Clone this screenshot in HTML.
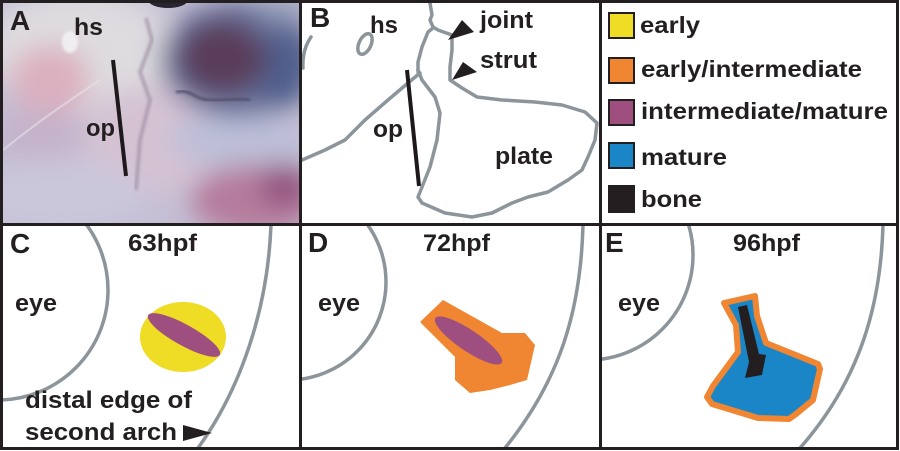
<!DOCTYPE html>
<html><head><meta charset="utf-8"><style>
html,body{margin:0;padding:0;background:#fff;}
svg{display:block;}
text{font-family:"Liberation Sans",Arial,sans-serif;font-weight:bold;fill:#231f20;}
</style></head><body>
<svg width="900" height="451" viewBox="0 0 900 451" xmlns="http://www.w3.org/2000/svg">
<defs>
 <clipPath id="ca"><rect x="3" y="3" width="296" height="220"/></clipPath>
 <clipPath id="cb"><rect x="302" y="3" width="297" height="220"/></clipPath>
 <clipPath id="cc"><rect x="3" y="226" width="296" height="221"/></clipPath>
 <clipPath id="cd"><rect x="302" y="226" width="297" height="221"/></clipPath>
 <clipPath id="ce"><rect x="602" y="226" width="294" height="221"/></clipPath>
 <filter id="b15" x="-50%" y="-50%" width="200%" height="200%"><feGaussianBlur stdDeviation="13"/></filter>
 <filter id="b6" x="-50%" y="-50%" width="200%" height="200%"><feGaussianBlur stdDeviation="5"/></filter>
 <filter id="b2"><feGaussianBlur stdDeviation="1.2"/></filter>
</defs>
<rect width="900" height="451" fill="#fff"/>

<!-- Panel A (photo approximation) -->
<g clip-path="url(#ca)">
 <rect x="0" y="0" width="300" height="226" fill="#c4bfd4"/>
 <g filter="url(#b15)">
  <ellipse cx="80" cy="50" rx="95" ry="60" fill="#dedcdf"/>
  <ellipse cx="50" cy="80" rx="40" ry="35" fill="#dbb0bf"/>
  <ellipse cx="150" cy="140" rx="70" ry="55" fill="#d4c2d3"/>
  <ellipse cx="40" cy="135" rx="45" ry="25" fill="#c4b2ca"/>
  <ellipse cx="60" cy="195" rx="85" ry="35" fill="#cbc7db"/>
  <ellipse cx="240" cy="140" rx="70" ry="28" fill="#bdbfd8"/>
  <ellipse cx="255" cy="200" rx="65" ry="35" fill="#b57c9c"/>
  <ellipse cx="285" cy="185" rx="25" ry="22" fill="#93527f"/>
  <ellipse cx="240" cy="60" rx="80" ry="58" fill="#66709a"/>
  <ellipse cx="285" cy="70" rx="25" ry="40" fill="#4f5f8c"/>
  <ellipse cx="222" cy="58" rx="45" ry="38" fill="#5a3c5a"/>
  <ellipse cx="285" cy="8" rx="25" ry="12" fill="#9aa2bc"/>
 </g>
 <ellipse cx="70" cy="42" rx="8" ry="11" fill="#f0eef0" filter="url(#b2)"/>
 <ellipse cx="168" cy="0" rx="20" ry="8" fill="#2b2530"/>
 <path d="M176,92 C190,88 195,100 210,100 C225,101 235,98 250,100" stroke="#4e4c68" stroke-width="2.5" fill="none" filter="url(#b2)"/>
 <path d="M146,18 L152,40 L140,72 L150,100 L140,140 L136,190" stroke="#9a8aa0" stroke-width="4" fill="none" opacity="0.6" filter="url(#b2)"/>
 <path d="M3,150 C40,120 70,100 100,80" stroke="#e8e4ea" stroke-width="2" fill="none" opacity="0.6"/>
 <line x1="113" y1="60" x2="126" y2="176" stroke="#1e1a1c" stroke-width="4"/>
 <text x="10" y="30" font-size="28">A</text>
 <text x="74" y="35" font-size="24" textLength="29" lengthAdjust="spacingAndGlyphs">hs</text>
 <text x="86" y="136" font-size="24" textLength="29" lengthAdjust="spacingAndGlyphs">op</text>
</g>

<!-- Panel B -->
<g clip-path="url(#cb)">
 <g stroke="#8c959b" stroke-width="3.5" fill="none" stroke-linejoin="round" stroke-linecap="round">
  <path d="M311,37 Q302,50 303,68"/>
  <ellipse cx="365" cy="44" rx="6" ry="11" transform="rotate(25 365 44)"/>
  <path d="M430,3 L432,15 L430,20 L433,27 L438,30 L452,35"/>
  <path d="M433,28 L428,32 L422,47 L418,62 L418,72"/>
  <path d="M452,35 L452,50 L450,67 L450,80 L462,88 L477,97 L502,100 L535,102 L562,105 L585,112 L597,123 L595,140 L588,157 L582,170 L568,180 L548,192 L528,197 L512,203 L492,213 L472,217 L445,213 L422,203 L418,197 L422,187 L430,167 L437,140 L440,113 L435,97 L422,80 L418,70"/>
  <path d="M302,160 L325,150 L345,140 L365,120 L388,100 L408,83 L420,73"/>
 </g>
 <line x1="407" y1="70" x2="419" y2="186" stroke="#1e1a1c" stroke-width="4"/>
 <polygon points="448,40 462,20 474,32" fill="#231f20"/>
 <polygon points="452,80 463,62 477,72" fill="#231f20"/>
 <text x="310" y="27" font-size="28">B</text>
 <text x="370" y="33" font-size="24" textLength="28" lengthAdjust="spacingAndGlyphs">hs</text>
 <text x="480" y="28" font-size="24" textLength="53" lengthAdjust="spacingAndGlyphs">joint</text>
 <text x="480" y="68" font-size="24" textLength="57" lengthAdjust="spacingAndGlyphs">strut</text>
 <text x="373" y="137" font-size="24" textLength="30" lengthAdjust="spacingAndGlyphs">op</text>
 <text x="495" y="164" font-size="24" textLength="58" lengthAdjust="spacingAndGlyphs">plate</text>
</g>

<!-- Legend -->
<g stroke="#231f20" stroke-width="2">
 <rect x="609" y="13" width="25" height="25" fill="#efdc24"/>
 <rect x="609" y="58" width="25" height="25" fill="#f08532"/>
 <rect x="609" y="100" width="25" height="25" fill="#9f4f7f"/>
 <rect x="609" y="143" width="25" height="25" fill="#1b86c7"/>
 <rect x="609" y="186" width="25" height="26" fill="#231f20"/>
</g>
<text x="640" y="33" font-size="23" textLength="60" lengthAdjust="spacingAndGlyphs">early</text>
<text x="641" y="77" font-size="23" textLength="221" lengthAdjust="spacingAndGlyphs">early/intermediate</text>
<text x="641" y="119" font-size="23" textLength="247" lengthAdjust="spacingAndGlyphs">intermediate/mature</text>
<text x="641" y="165" font-size="23" textLength="86" lengthAdjust="spacingAndGlyphs">mature</text>
<text x="641" y="207" font-size="23" textLength="61" lengthAdjust="spacingAndGlyphs">bone</text>

<!-- Panel C -->
<g clip-path="url(#cc)">
 <g stroke="#8c959b" stroke-width="3.5" fill="none">
  <circle cx="-2" cy="290" r="110"/>
  <path d="M271,224 C268,310 240,390 198,448"/>
 </g>
 <ellipse cx="183" cy="337" rx="43" ry="35" fill="#efdc24"/>
 <ellipse cx="184" cy="335" rx="41" ry="10.5" transform="rotate(29 184 335)" fill="#9f4f7f"/>
 <polygon points="183,425 212,433 183,441" fill="#231f20"/>
 <text x="10" y="253" font-size="28">C</text>
 <text x="128" y="251" font-size="24" textLength="69" lengthAdjust="spacingAndGlyphs">63hpf</text>
 <text x="15" y="311" font-size="24" textLength="42" lengthAdjust="spacingAndGlyphs">eye</text>
 <text x="25" y="408" font-size="24" textLength="167" lengthAdjust="spacingAndGlyphs">distal edge of</text>
 <text x="25" y="440" font-size="24" textLength="152" lengthAdjust="spacingAndGlyphs">second arch</text>
</g>

<!-- Panel D -->
<g clip-path="url(#cd)">
 <g stroke="#8c959b" stroke-width="3.5" fill="none">
  <circle cx="288" cy="282" r="98"/>
  <path d="M583,224 C581,310 560,380 505,448"/>
 </g>
 <polygon points="420,322 443,300 502,333 525,333 535,345 527,380 510,385 490,390 470,393 455,380 455,357" fill="#f08532"/>
 <ellipse cx="468.5" cy="340.5" rx="40" ry="10.5" transform="rotate(34 468.5 340.5)" fill="#9f4f7f"/>
 <text x="308" y="252" font-size="28">D</text>
 <text x="423" y="251" font-size="24" textLength="67" lengthAdjust="spacingAndGlyphs">72hpf</text>
 <text x="318" y="311" font-size="24" textLength="42" lengthAdjust="spacingAndGlyphs">eye</text>
</g>

<!-- Panel E -->
<g clip-path="url(#ce)">
 <g stroke="#8c959b" stroke-width="3.5" fill="none">
  <circle cx="588" cy="255" r="105"/>
  <path d="M883,224 C881,305 860,380 800,448"/>
 </g>
 <polygon points="724,303 755,296 757,316 766,343 818,364 820,369 813,400 796,414 789,419 758,418 712,404 707,397 713,386 738,352 736,325" fill="#1b86c7" stroke="#f08532" stroke-width="6" stroke-linejoin="round"/>
 <polygon points="738,307 747,305 759,354 766,355 762,375 745,378 749,362" fill="#231f20"/>
 <text x="605" y="252" font-size="28">E</text>
 <text x="733" y="251" font-size="24" textLength="67" lengthAdjust="spacingAndGlyphs">96hpf</text>
 <text x="618" y="311" font-size="24" textLength="42" lengthAdjust="spacingAndGlyphs">eye</text>
</g>

<!-- Borders -->
<g fill="#231f20">
 <rect x="0" y="0" width="899" height="3"/>
 <rect x="0" y="447" width="899" height="3"/>
 <rect x="0" y="0" width="3" height="450"/>
 <rect x="896" y="0" width="3" height="450"/>
 <rect x="299" y="0" width="3" height="450"/>
 <rect x="599" y="0" width="3" height="450"/>
 <rect x="0" y="223" width="899" height="3"/>
</g>
</svg>
</body></html>
